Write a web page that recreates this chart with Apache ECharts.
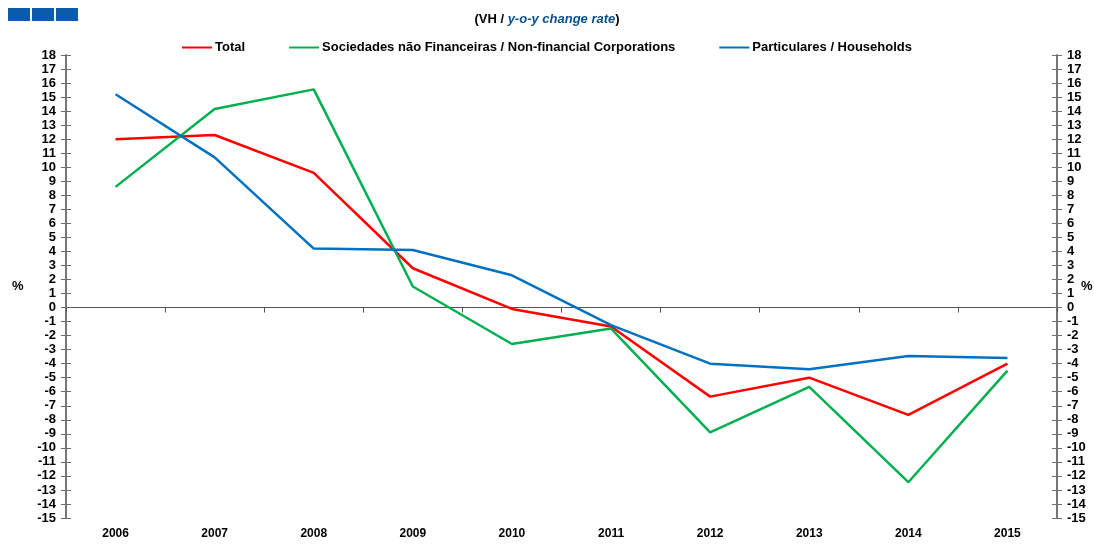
<!DOCTYPE html>
<html>
<head>
<meta charset="utf-8">
<script src="https://cdn.jsdelivr.net/npm/echarts@6/dist/echarts.min.js"></script>
<style>
  html, body { margin: 0; padding: 0; background: #fff; }
  #main { width: 1094px; height: 546px; }
</style>
</head>
<body>
<div id="main"></div>
<script>
// dados
var years = ['2006', '2007', '2008', '2009', '2010', '2011', '2012', '2013', '2014', '2015'];
var total = [12.0, 12.3, 9.6, 2.8, -0.1, -1.35, -6.35, -5.0, -7.65, -4.0];
var naoFinanceiras = [8.6, 14.15, 15.55, 1.5, -2.6, -1.5, -8.9, -5.65, -12.45, -4.5];
var particulares = [15.2, 10.7, 4.2, 4.1, 2.3, -1.25, -4.0, -4.4, -3.45, -3.6];
var yMin = -15, yMax = 18, yStep = 1;

var font = 'Liberation Sans, Arial, sans-serif';
var axisGrey = '#6e6e6e';
var labelStyle = { color: '#000', fontWeight: 'bold', fontSize: 13, fontFamily: font };

var myChart = echarts.init(document.getElementById('main'));

function yAx(pos, showLabel, inside) {
  return {
    type: 'value', position: pos, min: yMin, max: yMax, interval: yStep,
    axisLine: { show: true, lineStyle: { color: axisGrey, width: 1.5 } },
    axisTick: { show: true, inside: inside, length: 5, lineStyle: { color: axisGrey } },
    axisLabel: Object.assign({ show: showLabel, margin: 10 }, labelStyle, { lineHeight: 13 }),
    splitLine: { show: false }
  };
}

myChart.setOption({
  animation: false,
  title: {
    text: '(VH / {i|y-o-y change rate})',
    left: 'center', top: 8,
    textStyle: {
      fontSize: 13, fontWeight: 'bold', fontFamily: font, color: '#000',
      rich: { i: { fontStyle: 'italic', fontWeight: 'bold', color: '#0b4f8a', fontSize: 13, fontFamily: font } }
    }
  },
  legend: {
    top: 36, left: 'center', itemGap: 44, itemWidth: 30, itemHeight: 2,
    icon: 'rect',
    textStyle: { fontSize: 13, fontWeight: 'bold', fontFamily: font, color: '#000', padding: [0, 0, 0, -2] },
    data: ['Total', 'Sociedades não Financeiras / Non-financial Corporations', 'Particulares / Households']
  },
  grid: { left: 66, right: 37, top: 55, bottom: 28 },
  xAxis: [{
    type: 'category', data: years, boundaryGap: true,
    axisLine: { onZero: true, lineStyle: { color: '#555', width: 1.2 } },
    axisTick: { show: true, length: 5, lineStyle: { color: '#555' } },
    axisLabel: { show: false }
  }, {
    type: 'category', data: years, boundaryGap: true, position: 'bottom',
    axisLine: { show: false, onZero: false }, axisTick: { show: false },
    axisLabel: Object.assign({ margin: 10 }, labelStyle, { fontSize: 12 })
  }],
  yAxis: [yAx('left', true, false), yAx('right', true, false), yAx('left', false, true), yAx('right', false, true)],
  graphic: [
    { type: 'rect', left: 8, top: 8, shape: { width: 22, height: 13 }, style: { fill: '#0b5ca8' } },
    { type: 'rect', left: 32, top: 8, shape: { width: 22, height: 13 }, style: { fill: '#0b5ca8' } },
    { type: 'rect', left: 56, top: 8, shape: { width: 22, height: 13 }, style: { fill: '#0b5ca8' } },
    { type: 'text', left: 12, top: 280, style: { text: '%', font: 'bold 13px ' + font, fill: '#000' } },
    { type: 'text', left: 1081, top: 280, style: { text: '%', font: 'bold 13px ' + font, fill: '#000' } }
  ],
  series: [{
    name: 'Total', type: 'line', data: total, symbol: 'none',
    lineStyle: { color: '#ff0000', width: 2.5 }, itemStyle: { color: '#ff0000' }
  }, {
    name: 'Sociedades não Financeiras / Non-financial Corporations', type: 'line', data: naoFinanceiras, symbol: 'none',
    lineStyle: { color: '#00b050', width: 2.5 }, itemStyle: { color: '#00b050' }
  }, {
    name: 'Particulares / Households', type: 'line', data: particulares, symbol: 'none',
    lineStyle: { color: '#0070c0', width: 2.5 }, itemStyle: { color: '#0070c0' }
  }]
});
</script>
</body>
</html>
